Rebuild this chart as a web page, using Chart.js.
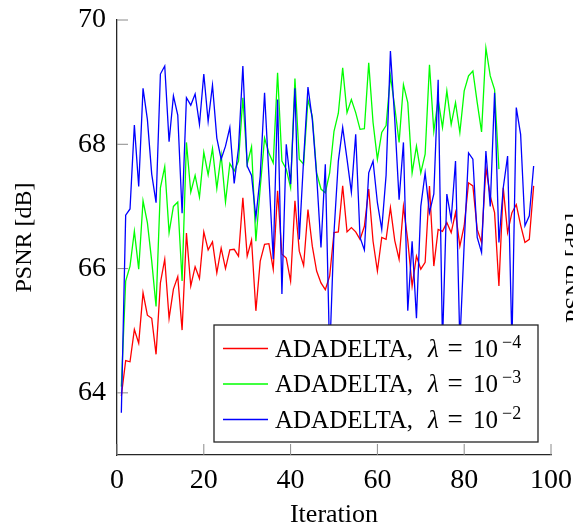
<!DOCTYPE html>
<html><head><meta charset="utf-8">
<script src="https://cdn.jsdelivr.net/npm/chart.js@4.4.0/dist/chart.umd.min.js"></script>
<style>html,body{margin:0;padding:0;background:#fff;}canvas{display:block;}</style>
</head><body>
<canvas id="c" width="573" height="526"></canvas>
<script>
const iterations = [1,2,3,4,5,6,7,8,9,10,11,12,13,14,15,16,17,18,19,20,21,22,23,24,25,26,27,28,29,30,31,32,33,34,35,36,37,38,39,40,41,42,43,44,45,46,47,48,49,50,51,52,53,54,55,56,57,58,59,60,61,62,63,64,65,66,67,68,69,70,71,72,73,74,75,76,77,78,79,80,81,82,83,84,85,86,87,88,89,90,91,92,93,94,95,96];

const psnrLambda4 = [63.95,64.52,64.5,65.02,64.8,65.61,65.25,65.2,64.62,65.77,66.15,65.2,65.67,65.87,65.01,66.57,65.72,66.03,65.84,66.59,66.3,66.43,65.93,66.33,66.0,66.3,66.31,66.2,67.14,66.2,66.46,65.32,66.12,66.39,66.4,65.99,67.25,66.23,66.17,65.8,67.09,66.28,66.05,66.95,66.36,65.96,65.77,65.66,65.88,66.58,66.59,67.33,66.59,66.66,66.59,66.47,66.68,67.28,66.44,65.96,66.5,66.47,66.98,66.45,66.15,67.0,66.45,65.72,66.2,65.99,66.1,67.33,66.04,66.63,66.6,66.74,66.58,66.9,66.36,66.69,67.38,67.33,66.63,66.42,67.62,67.17,66.9,65.72,67.3,66.58,66.9,67.03,66.7,66.42,66.47,67.33];

const psnrLambda3 = [64.1,65.8,66.04,66.6,65.99,67.09,66.74,66.12,65.39,67.3,67.64,66.58,67.0,67.07,65.8,68.03,67.23,67.5,67.15,67.87,67.51,67.93,67.29,67.83,67.07,67.69,67.57,67.73,68.75,67.68,67.96,66.44,67.3,68.1,67.86,67.7,69.15,67.73,67.6,67.3,69.06,67.76,67.68,68.72,68.45,67.54,67.28,67.22,67.54,68.21,68.5,69.23,68.51,68.72,68.51,68.24,68.25,69.31,68.35,67.76,68.19,68.3,69.1,68.6,68.03,68.96,68.67,67.54,67.97,67.54,67.84,69.28,68.21,68.72,68.27,68.86,68.32,68.67,68.19,68.86,69.1,69.18,68.67,68.2,69.55,69.1,68.88,67.6];

const psnrLambda2 = [63.68,66.86,66.96,68.31,67.32,68.9,68.4,67.52,67.06,69.13,69.26,68.04,68.78,68.47,66.89,68.75,68.63,68.81,68.32,69.13,68.37,68.95,68.1,67.76,67.97,68.27,67.37,67.94,69.26,67.65,67.5,66.82,67.49,68.83,67.5,66.15,68.72,65.59,68.0,67.36,68.9,66.47,67.76,68.92,68.4,67.5,66.34,67.68,64.6,66.58,67.73,68.27,67.76,67.23,68.16,66.5,66.3,67.54,67.73,67.06,66.63,67.5,69.5,68.4,67.11,68.03,65.32,66.44,65.2,67.0,67.54,66.9,67.2,69.04,64.8,67.2,66.79,67.73,64.8,66.4,67.86,67.76,66.5,66.26,67.89,67.0,68.83,66.42,67.3,67.81,64.8,68.59,68.16,66.69,66.85,67.65];

const seriesLabels = ['ADADELTA, λ = 10^−4', 'ADADELTA, λ = 10^−3', 'ADADELTA, λ = 10^−2'];
const seriesColors = ['#ff0000', '#00ff00', '#0000ff'];
const xTickValues = [0, 20, 40, 60, 80, 100];
const yTickValues = [64, 66, 68, 70];
const xTitle = 'Iteration';
const yTitle = 'PSNR [dB]';

const FONT = "'Liberation Serif', 'Times New Roman', serif";

const seriesValues = [psnrLambda4, psnrLambda3, psnrLambda2];
const datasets = seriesValues.map((vals, k) => ({
  label: seriesLabels[k],
  data: vals.map((v, i) => ({x: iterations[i], y: v})),
  borderColor: seriesColors[k],
  backgroundColor: seriesColors[k],
  borderWidth: 1.3,
  pointRadius: 0,
  tension: 0,
  fill: false,
  order: 3 - k
}));

const pgfPlugin = {
  id: 'pgfDecor',
  beforeDatasetsDraw(chart) {
    const {ctx, chartArea: {left, bottom}, scales: {x, y}} = chart;
    ctx.save();
    ctx.strokeStyle = '#8a8a8a';
    ctx.lineWidth = 1;
    ctx.beginPath();
    yTickValues.forEach(v => {
      const py = y.getPixelForValue(v);
      ctx.moveTo(left, py); ctx.lineTo(left + 11, py);
    });
    xTickValues.forEach(v => {
      const px = x.getPixelForValue(v);
      ctx.moveTo(px, bottom); ctx.lineTo(px, bottom - 11);
    });
    ctx.stroke();
    ctx.restore();
  },
  afterDatasetsDraw(chart) {
    const {ctx, chartArea: {right, bottom}} = chart;
    const bw = 324, bh = 117;
    const bx = right - 13 - bw, by = bottom - 13 - bh;
    ctx.save();
    ctx.fillStyle = '#fff';
    ctx.fillRect(bx, by, bw, bh);
    ctx.strokeStyle = '#262626';
    ctx.lineWidth = 1.3;
    ctx.strokeRect(bx, by, bw, bh);
    chart.data.datasets.forEach((ds, k) => {
      const ry = by + 23.5 + k * 35.5;
      ctx.strokeStyle = ds.borderColor;
      ctx.lineWidth = 1.3;
      ctx.beginPath();
      ctx.moveTo(bx + 9, ry); ctx.lineTo(bx + 54, ry);
      ctx.stroke();
      const [base, sup] = ds.label.split('^');
      const [name, rest] = base.split('λ');
      const tx = bx + 61, baseY = ry + 8;
      ctx.fillStyle = '#000';
      ctx.textBaseline = 'alphabetic';
      ctx.textAlign = 'left';
      ctx.font = `25px ${FONT}`;
      ctx.fillText(name.trim(), tx, baseY);
      ctx.font = `italic 25px ${FONT}`;
      ctx.fillText('λ', tx + 153, baseY);
      const [eq, num] = rest.trim().split(/\s+/);
      ctx.font = `27px ${FONT}`;
      ctx.textAlign = 'center';
      ctx.fillText(eq, tx + 180, baseY);
      ctx.textAlign = 'left';
      ctx.font = `25px ${FONT}`;
      ctx.fillText(num, tx + 198, baseY);
      ctx.font = `18px ${FONT}`;
      ctx.fillText(sup, tx + 227, baseY - 9);
    });
    ctx.restore();
  },
  afterDraw(chart) {
    const ctx = chart.ctx;
    ctx.save();
    ctx.translate(581, 268);
    ctx.rotate(-Math.PI / 2);
    ctx.font = `24px ${FONT}`;
    ctx.fillStyle = '#000';
    ctx.textAlign = 'center';
    ctx.textBaseline = 'alphabetic';
    ctx.fillText(yTitle, 0, 0);
    ctx.restore();
  }
};

new Chart(document.getElementById('c'), {
  type: 'line',
  data: {datasets},
  options: {
    responsive: false,
    devicePixelRatio: 1,
    animation: false,
    layout: {padding: {top: 20, right: 22, left: 0, bottom: 0}},
    plugins: {legend: {display: false}, tooltip: {enabled: false}},
    scales: {
      x: {
        type: 'linear', min: 0, max: 100,
        afterBuildTicks: s => { s.ticks = xTickValues.map(v => ({value: v})); },
        afterFit: s => { s.height = 71; s.paddingLeft = 0; s.paddingRight = 0; },
        grid: {display: false, drawTicks: false},
        border: {display: true, color: '#262626', width: 1.3},
        ticks: {color: '#000', font: {family: FONT, size: 28}, padding: 9, maxRotation: 0, autoSkip: false},
        title: {display: true, text: xTitle, color: '#000', font: {family: FONT, size: 26}, padding: {top: 0, bottom: -5}}
      },
      y: {
        type: 'linear', min: 63, max: 70,
        afterBuildTicks: s => { s.ticks = yTickValues.map(v => ({value: v})); },
        afterFit: s => { s.width = 117; s.paddingTop = 0; s.paddingBottom = 0; },
        grid: {display: false, drawTicks: false},
        border: {display: true, color: '#262626', width: 1.3},
        ticks: {color: '#000', font: {family: FONT, size: 28}, padding: 11},
        title: {display: true, text: yTitle, color: '#000', font: {family: FONT, size: 24}, padding: {top: 10, bottom: 0}}
      }
    }
  },
  plugins: [pgfPlugin]
});
</script>
</body></html>
